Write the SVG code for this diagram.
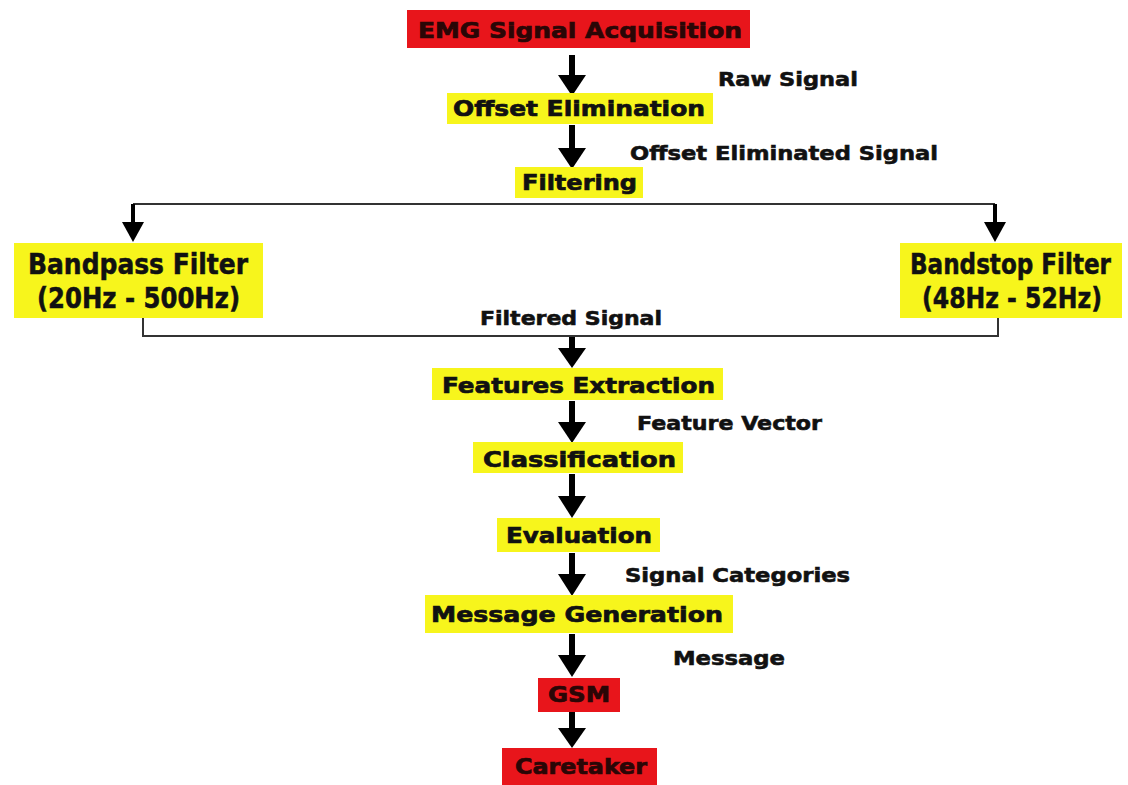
<svg xmlns="http://www.w3.org/2000/svg" width="1128" height="785" viewBox="0 0 1128 785">
<style>
.red{fill:#e8151b}
.yel{fill:#f7f51c}
.t{font-family:"DejaVu Sans","Liberation Sans",sans-serif;font-weight:bold;font-size:22px;fill:#111;stroke:#111;stroke-width:0.7}
.tr{font-family:"DejaVu Sans","Liberation Sans",sans-serif;font-weight:bold;font-size:22px;fill:#2a0606;stroke:#2a0606;stroke-width:0.7}
.tc{font-family:"Liberation Sans Narrow","DejaVu Sans Condensed","Liberation Sans",sans-serif;font-weight:bold;font-size:28px;fill:#111;stroke:#111;stroke-width:0.5}
.lbl{font-family:"DejaVu Sans","Liberation Sans",sans-serif;font-weight:bold;font-size:20px;fill:#111;stroke:#111;stroke-width:0.6}
.ln{fill:none;stroke:#333;stroke-width:2}
.sh{fill:none;stroke:#000;stroke-width:6}
.shs{fill:none;stroke:#000;stroke-width:4}
</style>
<rect width="1128" height="785" fill="#fff"/>
<g id="connectors">
<path d="M572,55 V75" class="sh"/><path d="M558,75 L586,75 L572,96 Z"/>
<path d="M572,125 V148" class="sh"/><path d="M558,148 L586,148 L572,169 Z"/>
<path d="M133,204 H995" class="ln"/>
<path d="M133,204 V224" class="shs"/><path d="M122,222 L144,222 L133,242 Z"/>
<path d="M995,204 V224" class="shs"/><path d="M984,222 L1006,222 L995,242 Z"/>
<path d="M143,318 V336 H998 V318" class="ln"/>
<path d="M572,337 V350" class="sh"/><path d="M558,348 L586,348 L572,368 Z"/>
<path d="M572,401 V423" class="sh"/><path d="M558,422 L586,422 L572,443 Z"/>
<path d="M572,474 V497" class="sh"/><path d="M558,496 L586,496 L572,518 Z"/>
<path d="M572,553 V575" class="sh"/><path d="M558,574 L586,574 L572,596 Z"/>
<path d="M572,634 V656" class="sh"/><path d="M558,655 L586,655 L572,677 Z"/>
<path d="M572,712 V730" class="sh"/><path d="M558,728 L586,728 L572,748 Z"/>
<text class="lbl" x="718" y="86" textLength="140" lengthAdjust="spacingAndGlyphs">Raw Signal</text>
<text class="lbl" x="630" y="160" textLength="308" lengthAdjust="spacingAndGlyphs">Offset Eliminated Signal</text>
<text class="lbl" x="480" y="325" textLength="182" lengthAdjust="spacingAndGlyphs">Filtered Signal</text>
<text class="lbl" x="637" y="430" textLength="185" lengthAdjust="spacingAndGlyphs">Feature Vector</text>
<text class="lbl" x="625" y="582" textLength="225" lengthAdjust="spacingAndGlyphs">Signal Categories</text>
<text class="lbl" x="673" y="665" textLength="112" lengthAdjust="spacingAndGlyphs">Message</text>
</g>
<g id="emg">
<rect class="red" x="407" y="10" width="343" height="38"/>
<text class="tr" x="418" y="38" textLength="324" lengthAdjust="spacingAndGlyphs">EMG Signal Acquisition</text>
</g>
<g id="offset">
<rect class="yel" x="447" y="93" width="266" height="31"/>
<text class="t" x="453" y="116" textLength="252" lengthAdjust="spacingAndGlyphs">Offset Elimination</text>
</g>
<g id="filtering">
<rect class="yel" x="515" y="167" width="128" height="31"/>
<text class="t" x="522" y="190" textLength="115" lengthAdjust="spacingAndGlyphs">Filtering</text>
</g>
<g id="bandpass">
<rect class="yel" x="14" y="243" width="249" height="75"/>
<text class="tc" x="28" y="274" textLength="220" lengthAdjust="spacingAndGlyphs">Bandpass Filter</text>
<text class="tc" x="37" y="308" textLength="203" lengthAdjust="spacingAndGlyphs">(20Hz - 500Hz)</text>
</g>
<g id="bandstop">
<rect class="yel" x="900" y="243" width="222" height="75"/>
<text class="tc" x="910" y="274" textLength="201" lengthAdjust="spacingAndGlyphs">Bandstop Filter</text>
<text class="tc" x="922" y="308" textLength="180" lengthAdjust="spacingAndGlyphs">(48Hz - 52Hz)</text>
</g>
<g id="features">
<rect class="yel" x="432" y="368" width="291" height="32"/>
<text class="t" x="442" y="393" textLength="273" lengthAdjust="spacingAndGlyphs">Features Extraction</text>
</g>
<g id="classification">
<rect class="yel" x="473" y="442" width="210" height="31"/>
<text class="t" x="483" y="467" textLength="193" lengthAdjust="spacingAndGlyphs">Classification</text>
</g>
<g id="evaluation">
<rect class="yel" x="497" y="518" width="163" height="34"/>
<text class="t" x="506" y="543" textLength="146" lengthAdjust="spacingAndGlyphs">Evaluation</text>
</g>
<g id="message">
<rect class="yel" x="425" y="595" width="308" height="38"/>
<text class="t" x="431" y="622" textLength="292" lengthAdjust="spacingAndGlyphs">Message Generation</text>
</g>
<g id="gsm">
<rect class="red" x="538" y="678" width="82" height="34"/>
<text class="tr" x="548" y="702" textLength="62" lengthAdjust="spacingAndGlyphs">GSM</text>
</g>
<g id="caretaker">
<rect class="red" x="502" y="748" width="155" height="37"/>
<text class="tr" x="515" y="774" textLength="132" lengthAdjust="spacingAndGlyphs">Caretaker</text>
</g>
</svg>
